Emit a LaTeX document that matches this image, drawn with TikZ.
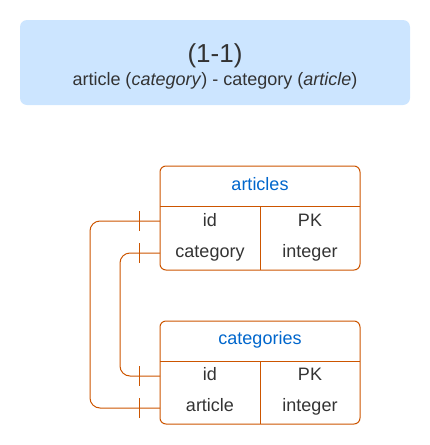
\documentclass[tikz,border=0pt]{standalone}
\usepackage{fontspec}
\setmainfont{Liberation Sans}
\definecolor{titlebg}{RGB}{204,229,255}
\definecolor{txt}{RGB}{51,51,51}
\definecolor{hdr}{RGB}{0,102,204}
\definecolor{edge}{RGB}{204,85,0}
\tikzset{
  tbl/.style={draw=edge, line width=1pt, rounded corners=6pt},
  sep/.style={draw=edge, line width=1pt},
  cell/.style={text=txt, font=\fontsize{18}{21}\selectfont, inner sep=0pt, anchor=base},
  head/.style={text=hdr, font=\fontsize{18}{21}\selectfont, inner sep=0pt, anchor=base},
  link/.style={draw=edge, line width=1pt, rounded corners=10pt},
  tick/.style={draw=edge, line width=1pt}
}
\begin{document}
\begin{tikzpicture}[x=1pt,y=-1pt]
\useasboundingbox (0,0) rectangle (430,445);
% title
\fill[titlebg, rounded corners=7pt] (20,20) rectangle (410,105);
\node[text=txt, font=\fontsize{26}{30}\selectfont, inner sep=0pt, anchor=base] (title) at (215,62) {(1-1)};
\node[text=txt, font=\fontsize{18}{21}\selectfont, inner sep=0pt, anchor=base] (sub) at (215,85) {article (\textit{category}) - category (\textit{article})};
% articles table
\draw[tbl] (160,166) rectangle (360,270);
\draw[sep] (160,206) -- (360,206);
\draw[sep] (260,206) -- (260,270);
\node[head] (ah) at (260,190) {articles};
\node[cell] (aid) at (210,226) {id};
\node[cell] (apk) at (310,226) {PK};
\node[cell] (acat) at (210,257.5) {category};
\node[cell] (aint) at (310,257.5) {integer};
\coordinate (aidL) at (160,221);
\coordinate (acatL) at (160,253);
% categories table
\draw[tbl] (160,321) rectangle (360,424);
\draw[sep] (160,361) -- (360,361);
\draw[sep] (260,361) -- (260,424);
\node[head] (ch) at (260,344) {categories};
\node[cell] (cid) at (210,380) {id};
\node[cell] (cpk) at (310,380) {PK};
\node[cell] (cart) at (210,411.5) {article};
\node[cell] (cint) at (310,411.5) {integer};
\coordinate (cidL) at (160,376);
\coordinate (cartL) at (160,408);
% connectors
\draw[link] (aidL) -- (90,221) -- (90,408) -- (cartL);
\draw[link] (acatL) -- (120,253) -- (120,376) -- (cidL);
% ticks
\foreach \y in {221,253,376,408}{
  \draw[tick] (139,\y-10) -- (139,\y+10);
}
\end{tikzpicture}
\end{document}
